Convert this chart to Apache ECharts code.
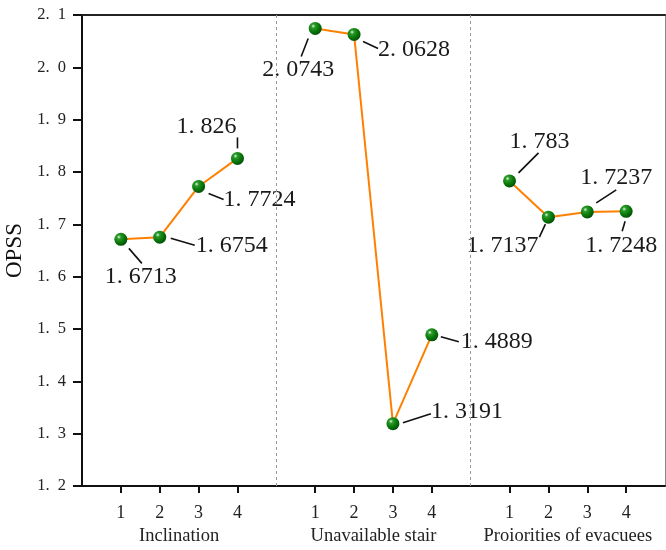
<!DOCTYPE html>
<html>
<head>
<meta charset="utf-8">
<script src="https://cdn.jsdelivr.net/npm/echarts@6/dist/echarts.min.js"></script>
<style>html,body{margin:0;padding:0;background:#fff}#c{width:666px;height:550px}</style>
</head>
<body>
<div id="c"></div>
<script>
// ---- data ----
var groupNames = ['Inclination', 'Unavailable stair', 'Proiorities of evacuees'];
var tickLabels = ['1', '2', '3', '4'];
var inclination = [1.6713, 1.6754, 1.7724, 1.826];
var unavailableStair = [2.0743, 2.0628, 1.3191, 1.4889];
var priorities = [1.783, 1.7137, 1.7237, 1.7248];
var yTicks = [1.2, 1.3, 1.4, 1.5, 1.6, 1.7, 1.8, 1.9, 2.0, 2.1];

// ---- label placement styles (pixel offsets relative to each marker) ----
var labelOffsets = [
  [[20, 37], [72, 8], [61, 13], [-31, -32]],
  [[-17, 41], [60, 15], [74, -12], [65, 7]],
  [[30, -39], [-46, 29], [29, -34], [-5, 34]]
];
var leaderLines = [
  [[[8, 9], [21, 24]], [[11, 1], [35, 8]], [[10, 7], [25, 13]], [[0, -21], [0, -10]]],
  [[[-7, 10], [-14, 28]], [[9, 7], [24, 14]], [[10, -1], [38, -10]], [[9, 2], [27, 7]]],
  [[[9, -8], [29, -28]], [[-3, 7], [-9, 20]], [[9, -9], [29, -22]], [[-1, 10], [-4, 20]]]
];

var groups = [inclination, unavailableStair, priorities];
var SERIF = '"Liberation Serif", "DejaVu Serif", serif';
var groupStep = tickLabels.length + 1;

function groupPos(g, i) { return g * groupStep + i + 1; }

var tickValues = [];
var tickMap = {};
var leaderData = [];
groups.forEach(function (vals, g) {
  tickLabels.forEach(function (t, i) {
    var p = groupPos(g, i);
    tickValues.push(p);
    tickMap[p] = t;
  });
  vals.forEach(function (v, i) { leaderData.push([groupPos(g, i), v, g, i]); });
});
var groupCenters = groupNames.map(function (n, g) {
  return g * groupStep + (tickLabels.length + 1) / 2;
});
var sepValues = groupNames.slice(1).map(function (n, g) { return (g + 1) * groupStep; });
var xMax = groupNames.length * groupStep;

function fmt(v) { return String(v).replace('.', '. '); }

var ball = {
  type: 'radial', x: 0.35, y: 0.32, r: 0.7,
  colorStops: [
    { offset: 0, color: '#e6f7e6' },
    { offset: 0.22, color: '#2a9a2a' },
    { offset: 0.6, color: '#0a7a0a' },
    { offset: 1, color: '#04500a' }
  ]
};

var series = groups.map(function (vals, g) {
  var s = {
    type: 'line',
    xAxisIndex: 0,
    yAxisIndex: 0,
    data: vals.map(function (v, i) { return [groupPos(g, i), v]; }),
    symbol: 'circle',
    symbolSize: 13,
    itemStyle: { color: ball },
    lineStyle: { color: '#ff8000', width: 2 },
    z: 3,
    label: {
      show: true,
      fontFamily: SERIF,
      fontSize: 24,
      color: '#1a1a1a',
      formatter: function (p) { return fmt(p.value[1]); }
    },
    labelLayout: function (params) {
      var off = labelOffsets[params.seriesIndex][params.dataIndex];
      var r = params.rect;
      var cx = r.x + r.width / 2, cy = r.y + r.height / 2;
      return { x: cx + off[0], y: cy + off[1], align: 'center', verticalAlign: 'middle' };
    },
    animation: false
  };
  if (g === 0) {
    s.markLine = {
      silent: true,
      symbol: 'none',
      label: { show: false },
      lineStyle: { color: '#999', type: [3, 3], width: 1 },
      data: sepValues.map(function (x) { return { xAxis: x }; })
    };
  }
  return s;
});

// leader lines from each marker towards its value label
series.push({
  type: 'custom',
  xAxisIndex: 0,
  yAxisIndex: 0,
  silent: true,
  z: 2,
  encode: { x: 0, y: 1 },
  data: leaderData,
  renderItem: function (params, api) {
    var p = api.coord([api.value(0), api.value(1)]);
    var ll = leaderLines[api.value(2)][api.value(3)];
    return {
      type: 'line',
      shape: { x1: p[0] + ll[0][0], y1: p[1] + ll[0][1], x2: p[0] + ll[1][0], y2: p[1] + ll[1][1] },
      style: { stroke: '#111', lineWidth: 1.6 }
    };
  },
  animation: false
});

var chart = echarts.init(document.getElementById('c'), null, { renderer: 'canvas' });
chart.setOption({
  animation: false,
  backgroundColor: '#fff',
  grid: { left: 82, right: 1, top: 15, bottom: 64, containLabel: false, outerBoundsMode: 'none' },
  xAxis: [
    {
      type: 'value', position: 'bottom', min: 0, max: xMax, interval: 1,
      splitLine: { show: false },
      axisLine: { show: true, onZero: false, lineStyle: { color: '#111', width: 2 } },
      axisTick: { show: true, customValues: tickValues, length: 7, lineStyle: { color: '#111', width: 2 } },
      axisLabel: {
        customValues: tickValues, margin: 18, fontFamily: SERIF, fontSize: 18, color: '#222',
        formatter: function (v) { return tickMap[v] || ''; }
      }
    },
    {
      type: 'value', position: 'bottom', min: 0, max: xMax, interval: 1,
      splitLine: { show: false },
      axisLine: { show: false },
      axisTick: { show: false },
      axisLabel: {
        customValues: groupCenters, margin: 41, fontFamily: SERIF, fontSize: 18.5, color: '#222',
        formatter: function (v) {
          var idx = groupCenters.indexOf(v);
          return idx >= 0 ? groupNames[idx] : '';
        }
      }
    },
    {
      type: 'value', position: 'top', min: 0, max: xMax,
      splitLine: { show: false },
      axisLine: { show: true, onZero: false, lineStyle: { color: '#222', width: 2 } },
      axisTick: { show: false },
      axisLabel: { show: false }
    }
  ],
  yAxis: [
    {
      type: 'value', min: yTicks[0], max: yTicks[yTicks.length - 1], interval: 0.1,
      name: 'OPSS', nameLocation: 'middle', nameGap: 48, nameRotate: 90,
      nameTextStyle: { fontFamily: SERIF, fontSize: 23, color: '#111' },
      splitLine: { show: false },
      axisLine: { show: true, onZero: false, lineStyle: { color: '#111', width: 2 } },
      axisTick: { show: true, length: 9, lineStyle: { color: '#111', width: 2 } },
      axisLabel: {
        margin: 16, fontFamily: SERIF, fontSize: 16.5, color: '#222',
        formatter: function (v) { return v.toFixed(1).replace('.', '.\u2002'); }
      }
    },
    {
      type: 'value', position: 'right', min: yTicks[0], max: yTicks[yTicks.length - 1],
      splitLine: { show: false },
      axisLine: { show: true, onZero: false, lineStyle: { color: '#888', width: 1 } },
      axisTick: { show: false },
      axisLabel: { show: false }
    }
  ],
  series: series
});
</script>
</body>
</html>
